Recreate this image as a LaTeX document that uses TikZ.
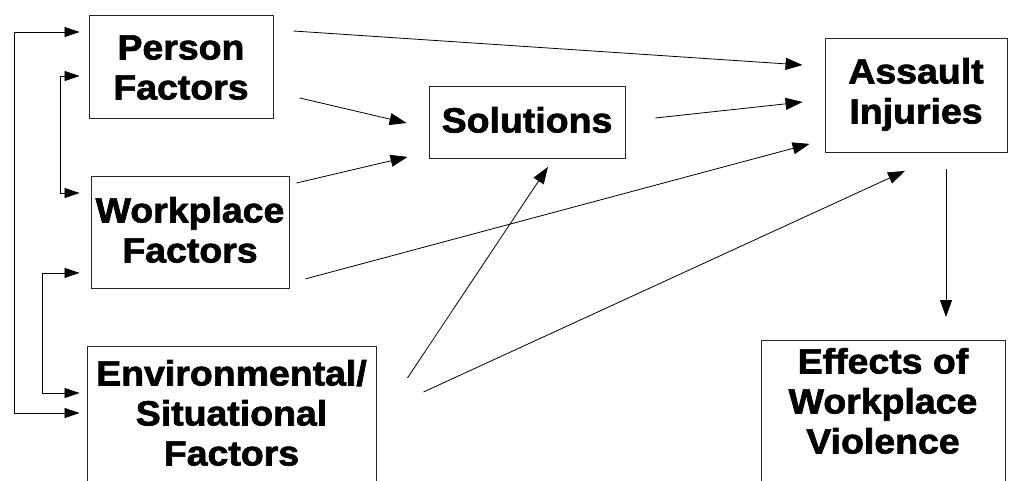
\documentclass[tikz,border=0pt]{standalone}
\usepackage{fontspec}
\newfontfamily\lbl{Liberation Sans}[FakeStretch=1.07, BoldFeatures={FakeBold=2}]
\usetikzlibrary{arrows.meta,calc}
\tikzset{
  box/.style={draw=black!85, line width=0.9pt, anchor=north, inner sep=0pt,
    font=\lbl\bfseries\fontsize{35}{40}\selectfont},
  arr/.style={line width=0.8pt, -{Triangle[length=17pt,width=12pt]}},
  biarr/.style={line width=0.8pt, {Triangle[length=15pt,width=10pt]}-{Triangle[length=15pt,width=10pt]}},
}
\newcommand{\lines}[1]{\begin{tabular}[t]{@{}c@{}}#1\end{tabular}}
\begin{document}
\begin{tikzpicture}[x=1pt,y=-1pt]
\useasboundingbox (0,0) rectangle (1010,480);
\begin{scope}
\clip (0,0) rectangle (1010,480);
\node[box, minimum width=184pt, text height=44pt, text depth=59pt] (person) at (181,15) {\lines{Person\\Factors}};
\node[box, minimum width=198pt, text height=46pt, text depth=66pt] (work) at (190,176) {\lines{Workplace\\Factors}};
\node[box, minimum width=289pt, text height=39pt, text depth=200pt] (env) at (231.5,346) {\lines{Environmental/\\Situational\\Factors}};
\node[box, minimum width=196pt, text height=46pt, text depth=26pt] (sol) at (527,86) {\lines{Solutions}};
\node[box, minimum width=182pt, text height=45pt, text depth=69pt] (assault) at (916,38) {\lines{Assault\\Injuries}};
\node[box, minimum width=244pt, text height=33pt, text depth=200pt] (effects) at (883,340) {\lines{Effects of\\Workplace\\Violence}};
\end{scope}

\draw[arr] ($(person.north east)+(20,16)$) -- ($(assault.north west)+(-22,27)$);
\draw[arr] ($(person.south east)+(26,-21)$) -- ($(sol.north west)+(-22,37)$);
\draw[arr] ($(work.north east)+(7,7)$) -- ($(sol.south west)+(-21,-2)$);
\draw[arr] ($(sol.north east)+(30,32)$) -- ($(assault.north west)+(-22,64)$);
\draw[arr] ($(work.south east)+(16,-10)$) -- ($(assault.south west)+(-15,-9)$);
\draw[arr] ($(env.north east)+(31,32)$) -- ($(sol.south)+(21,8)$);
\draw[arr] ($(env.north east)+(47,46)$) -- ($(assault.south)+(-11,18)$);
\draw[arr] ($(assault.south)+(30,16)$) -- ($(effects.north)+(63,-23)$);

\draw[biarr] ($(person.north west)+(-9,17)$) -- ++(-65,0) |- ($(env.north west)+(-7,67)$);
\draw[biarr] ($(person.north west)+(-9,61)$) -- ++(-19,0) |- ($(work.north west)+(-11,17)$);
\draw[biarr] ($(work.south west)+(-11,-16)$) -- ++(-37,0) |- ($(env.north west)+(-7,47)$);
\end{tikzpicture}
\end{document}
